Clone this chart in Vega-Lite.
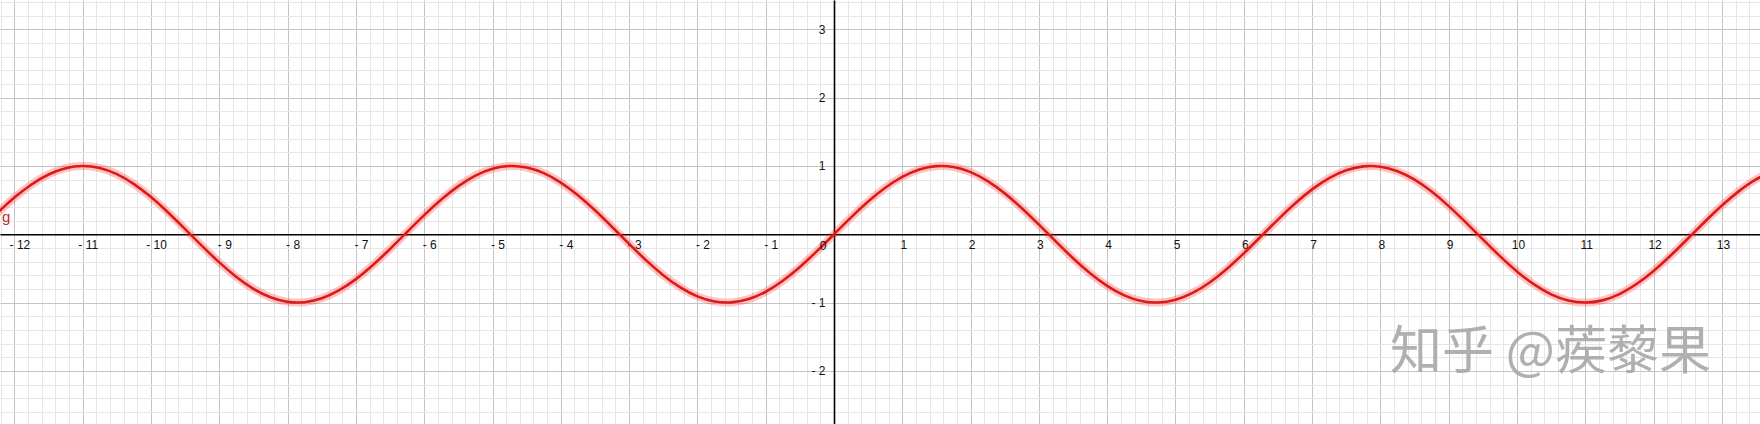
{
  "$schema": "https://vega.github.io/schema/vega-lite/v6.json",
  "width": 1760,
  "height": 424,
  "padding": 0,
  "autosize": {"type": "none"},
  "background": "white",
  "config": {"view": {"stroke": null}},
  "datasets": {
    "curve": [
      {"x": -12.5, "y": 0.0663}, {"x": -12.25, "y": 0.3111}, {"x": -12.0, "y": 0.5366}, {"x": -11.75, "y": 0.7287},
      {"x": -11.5, "y": 0.8755}, {"x": -11.25, "y": 0.9679}, {"x": -11.0, "y": 1.0}, {"x": -10.75, "y": 0.9701},
      {"x": -10.5, "y": 0.8797}, {"x": -10.25, "y": 0.7346}, {"x": -10.0, "y": 0.544}, {"x": -9.75, "y": 0.3195},
      {"x": -9.5, "y": 0.0752}, {"x": -9.25, "y": -0.1739}, {"x": -9.0, "y": -0.4121}, {"x": -8.75, "y": -0.6247},
      {"x": -8.5, "y": -0.7985}, {"x": -8.25, "y": -0.9224}, {"x": -8.0, "y": -0.9894}, {"x": -7.75, "y": -0.9946},
      {"x": -7.5, "y": -0.938}, {"x": -7.25, "y": -0.8231}, {"x": -7.0, "y": -0.657}, {"x": -6.75, "y": -0.45},
      {"x": -6.5, "y": -0.2151}, {"x": -6.25, "y": 0.0332}, {"x": -6.0, "y": 0.2794}, {"x": -5.75, "y": 0.5083},
      {"x": -5.5, "y": 0.7055}, {"x": -5.25, "y": 0.8589}, {"x": -5.0, "y": 0.9589}, {"x": -4.75, "y": 0.9993},
      {"x": -4.5, "y": 0.9775}, {"x": -4.25, "y": 0.895}, {"x": -4.0, "y": 0.7568}, {"x": -3.75, "y": 0.5716},
      {"x": -3.5, "y": 0.3508}, {"x": -3.25, "y": 0.1082}, {"x": -3.0, "y": -0.1411}, {"x": -2.75, "y": -0.3817},
      {"x": -2.5, "y": -0.5985}, {"x": -2.25, "y": -0.7781}, {"x": -2.0, "y": -0.9093}, {"x": -1.75, "y": -0.984},
      {"x": -1.5, "y": -0.9975}, {"x": -1.25, "y": -0.949}, {"x": -1.0, "y": -0.8415}, {"x": -0.75, "y": -0.6816},
      {"x": -0.5, "y": -0.4794}, {"x": -0.25, "y": -0.2474}, {"x": 0.0, "y": 0.0}, {"x": 0.25, "y": 0.2474},
      {"x": 0.5, "y": 0.4794}, {"x": 0.75, "y": 0.6816}, {"x": 1.0, "y": 0.8415}, {"x": 1.25, "y": 0.949},
      {"x": 1.5, "y": 0.9975}, {"x": 1.75, "y": 0.984}, {"x": 2.0, "y": 0.9093}, {"x": 2.25, "y": 0.7781},
      {"x": 2.5, "y": 0.5985}, {"x": 2.75, "y": 0.3817}, {"x": 3.0, "y": 0.1411}, {"x": 3.25, "y": -0.1082},
      {"x": 3.5, "y": -0.3508}, {"x": 3.75, "y": -0.5716}, {"x": 4.0, "y": -0.7568}, {"x": 4.25, "y": -0.895},
      {"x": 4.5, "y": -0.9775}, {"x": 4.75, "y": -0.9993}, {"x": 5.0, "y": -0.9589}, {"x": 5.25, "y": -0.8589},
      {"x": 5.5, "y": -0.7055}, {"x": 5.75, "y": -0.5083}, {"x": 6.0, "y": -0.2794}, {"x": 6.25, "y": -0.0332},
      {"x": 6.5, "y": 0.2151}, {"x": 6.75, "y": 0.45}, {"x": 7.0, "y": 0.657}, {"x": 7.25, "y": 0.8231},
      {"x": 7.5, "y": 0.938}, {"x": 7.75, "y": 0.9946}, {"x": 8.0, "y": 0.9894}, {"x": 8.25, "y": 0.9224},
      {"x": 8.5, "y": 0.7985}, {"x": 8.75, "y": 0.6247}, {"x": 9.0, "y": 0.4121}, {"x": 9.25, "y": 0.1739},
      {"x": 9.5, "y": -0.0752}, {"x": 9.75, "y": -0.3195}, {"x": 10.0, "y": -0.544}, {"x": 10.25, "y": -0.7346},
      {"x": 10.5, "y": -0.8797}, {"x": 10.75, "y": -0.9701}, {"x": 11.0, "y": -1.0}, {"x": 11.25, "y": -0.9679},
      {"x": 11.5, "y": -0.8755}, {"x": 11.75, "y": -0.7287}, {"x": 12.0, "y": -0.5366}, {"x": 12.25, "y": -0.3111},
      {"x": 12.5, "y": -0.0663}, {"x": 12.75, "y": 0.1826}, {"x": 13.0, "y": 0.4202}, {"x": 13.25, "y": 0.6316},
      {"x": 13.5, "y": 0.8038}, {"x": 13.75, "y": 0.9261}
    ],
    "notes": [{"zero": "0", "name": "g", "mark": "知乎 @蒺藜果"}]
  },
  "resolve": {"axis": {"x": "independent", "y": "independent"}},
  "layer": [
    {
      "data": {"name": "curve"},
      "mark": {"type": "line", "interpolate": "natural", "color": "#ff2a2a", "strokeWidth": 8, "opacity": 0.28, "clip": true},
      "encoding": {
        "x": {"field": "x", "type": "quantitative", "scale": {"domain": [-12.211, 13.558], "nice": false, "zero": false},
              "axis": {"tickCount": 130, "grid": true, "gridColor": "#e6e6e6", "gridWidth": 1, "labels": false, "ticks": false, "domain": false, "title": null}},
        "y": {"field": "y", "type": "quantitative", "scale": {"domain": [-2.778, 3.43], "nice": false, "zero": false},
              "axis": {"tickCount": 31, "grid": true, "gridColor": "#e6e6e6", "gridWidth": 1, "labels": false, "ticks": false, "domain": false, "title": null}}
      }
    },
    {
      "data": {"name": "curve"},
      "mark": {"type": "line", "interpolate": "natural", "color": "#dd1a1a", "strokeWidth": 2.6, "clip": true},
      "encoding": {
        "x": {"field": "x", "type": "quantitative",
              "axis": {"tickCount": 26, "grid": true, "gridColor": "#c4c4c4", "gridWidth": 1, "labels": false, "ticks": false, "domain": false, "title": null}},
        "y": {"field": "y", "type": "quantitative",
              "axis": {"tickCount": 6, "grid": true, "gridColor": "#c4c4c4", "gridWidth": 1, "labels": false, "ticks": false, "domain": false, "title": null}}
      }
    },
    {
      "data": {"name": "notes"},
      "mark": {"type": "text", "font": "Liberation Sans", "fontSize": 12, "color": "#111", "align": "center", "baseline": "middle", "dx": -11, "dy": 12},
      "encoding": {
        "text": {"field": "zero"},
        "x": {"datum": 0, "type": "quantitative",
              "axis": {"values": [-12,-11,-10,-9,-8,-7,-6,-5,-4,-3,-2,-1,1,2,3,4,5,6,7,8,9,10,11,12,13],
                       "orient": "bottom", "offset": -189.7, "grid": false, "ticks": false, "tickSize": 0,
                       "domain": true, "domainColor": "#000", "domainWidth": 1.6,
                       "labelExpr": "datum.value < 0 ? '- ' + abs(datum.value) : datum.label",
                       "labelFont": "Liberation Sans", "labelFontSize": 12, "labelColor": "#111",
                       "labelPadding": 5, "labelBaseline": "top", "labelAlign": "center",
                       "labelOffset": {"condition": {"test": "datum.value < 0", "value": 5}, "value": 1},
                       "labelOverlap": false, "labelFlush": false, "title": null}},
        "y": {"datum": 0, "type": "quantitative",
              "axis": {"values": [-2,-1,1,2,3],
                       "orient": "left", "offset": -834, "grid": false, "ticks": false, "tickSize": 0,
                       "domain": true, "domainColor": "#000", "domainWidth": 1.6,
                       "labelExpr": "datum.value < 0 ? '- ' + abs(datum.value) : datum.label",
                       "labelFont": "Liberation Sans", "labelFontSize": 12, "labelColor": "#111",
                       "labelPadding": 9, "labelBaseline": "middle", "labelAlign": "right",
                       "labelOverlap": false, "labelFlush": false, "title": null}}
      }
    },
    {
      "data": {"name": "notes"},
      "mark": {"type": "text", "font": "Liberation Sans", "fontSize": 15, "color": "#c62828", "align": "center", "baseline": "alphabetic"},
      "encoding": {
        "text": {"field": "name"},
        "x": {"datum": -12.12, "type": "quantitative", "axis": null},
        "y": {"datum": 0.18, "type": "quantitative", "axis": null}
      }
    },
    {
      "data": {"name": "notes"},
      "mark": {"type": "text", "font": "Noto Sans CJK SC", "fontSize": 52, "color": "#a8a8a8", "opacity": 0.9, "align": "center", "baseline": "middle"},
      "encoding": {
        "text": {"field": "mark"},
        "x": {"datum": 10.49, "type": "quantitative", "axis": null},
        "y": {"datum": -1.74, "type": "quantitative", "axis": null}
      }
    }
  ]
}
